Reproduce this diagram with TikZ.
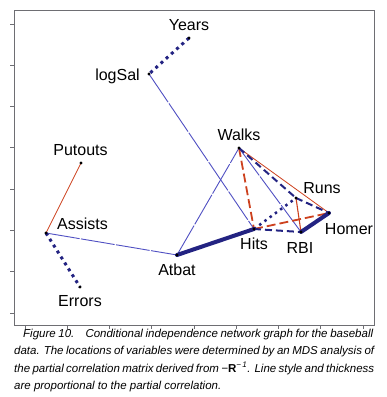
\documentclass[tikz,border=0pt]{standalone}
\usepackage{fontspec}
\setmainfont{Liberation Sans}
\definecolor{navyc}{RGB}{35,35,130}
\definecolor{thinblue}{RGB}{80,80,195}
\definecolor{redc}{RGB}{205,65,30}
\definecolor{framec}{RGB}{110,110,115}
\begin{document}
\begin{tikzpicture}[x=1pt,y=-1pt,
  lab/.style={anchor=base,inner sep=0pt,font=\fontsize{16}{16}\selectfont},
  captext/.style={anchor=base west,inner sep=0pt,font=\fontsize{11.5}{13}\selectfont\itshape},
  thinb/.style={draw=thinblue,line width=0.9pt,dash pattern=on 34pt off 1.5pt},
  thinr/.style={draw=redc,line width=0.8pt},
  bigdot/.style={draw=navyc,line width=3pt,dash pattern=on 3pt off 4pt},
  smalldot/.style={draw=navyc,line width=2.5pt,dash pattern=on 2.5pt off 4pt},
  navydash/.style={draw=navyc,line width=2pt,dash pattern=on 7pt off 4pt},
  reddash/.style={draw=redc,line width=1.8pt,dash pattern=on 9pt off 4pt},
  thicknavy/.style={draw=navyc,line width=4pt},
  tickline/.style={draw=framec,line width=0.8pt}]
\useasboundingbox (0,0) rectangle (387,397);
\fill[white] (0,0) rectangle (387,397);
% frame and ticks
\draw[draw=framec,line width=1pt] (14,10) rectangle (374,325);
\foreach \i in {0,...,7} \draw[tickline] (10,24+41.29*\i) -- (14,24+41.29*\i);
\foreach \i in {0,...,8} \draw[tickline] (25+42.25*\i,325) -- (25+42.25*\i,329);
% variable positions
\coordinate (years) at (189,38);
\coordinate (logsal) at (149,74);
\coordinate (putouts) at (81,163);
\coordinate (assists) at (46,233);
\coordinate (errors) at (80,287);
\coordinate (atbat) at (177,255);
\coordinate (walks) at (239,148);
\coordinate (runs) at (296,198);
\coordinate (homer) at (329,213);
\coordinate (hits) at (254,229);
\coordinate (rbi) at (301,232);
% edges
\draw[thinb] (logsal) -- (hits);
\draw[thinb] (assists) -- (atbat);
\draw[thinb] (atbat) -- (walks);
\draw[thinb] (walks) -- (rbi);
\draw[thinr] (putouts) -- (assists);
\draw[thinr] (walks) -- (homer);
\draw[thinr,line width=1.1pt] (runs) -- (rbi);
\draw[bigdot] (years) -- (logsal);
\draw[bigdot] (assists) -- (errors);
\draw[smalldot] (hits) -- (runs);
\draw[reddash] (walks) -- (hits);
\draw[reddash] (hits) -- (homer);
\draw[navydash] (walks) -- (runs);
\draw[navydash] (runs) -- (homer);
\draw[navydash] (hits) -- (rbi);
\draw[thicknavy,line cap=round] (atbat) -- (hits);
\draw[thicknavy,line cap=round,line join=round] (rbi) -- (homer);
% dots
\foreach \n in {years,logsal,putouts,assists,errors,atbat,walks,runs,homer,hits,rbi}
  \fill[black] (\n) circle (1.7pt);
% labels
\node[lab] (yearsL) at (189,30) {Years};
\node[lab] (logsalL) at (117.5,80) {logSal};
\node[lab] (putoutsL) at (80.5,155) {Putouts};
\node[lab] (assistsL) at (82.5,229) {Assists};
\node[lab] (errorsL) at (80,306) {Errors};
\node[lab] (atbatL) at (177,275) {Atbat};
\node[lab] (walksL) at (239,140) {Walks};
\node[lab] (runsL) at (322,193) {Runs};
\node[lab] (homerL) at (349,234) {Homer};
\node[lab] (hitsL) at (254,249) {Hits};
\node[lab] (rbiL) at (300,253) {RBI};
% caption
\node[captext] (c1) at (23,337) {\makebox[350pt][s]{Figure 10.\hspace{7pt} Conditional independence network graph for the baseball}};
\node[captext] (c2) at (14,354.6) {\makebox[360pt][s]{data. The locations of variables were determined by an MDS analysis of}};
\node[captext] (c3) at (14,372.2) {\makebox[360pt][s]{the partial correlation matrix derived from \textminus{\upshape\bfseries R}\textsuperscript{\textminus\,1}. Line style and thickness}};
\node[captext] (c4) at (14,389.8) {are proportional to the partial correlation.};
\end{tikzpicture}
\end{document}
